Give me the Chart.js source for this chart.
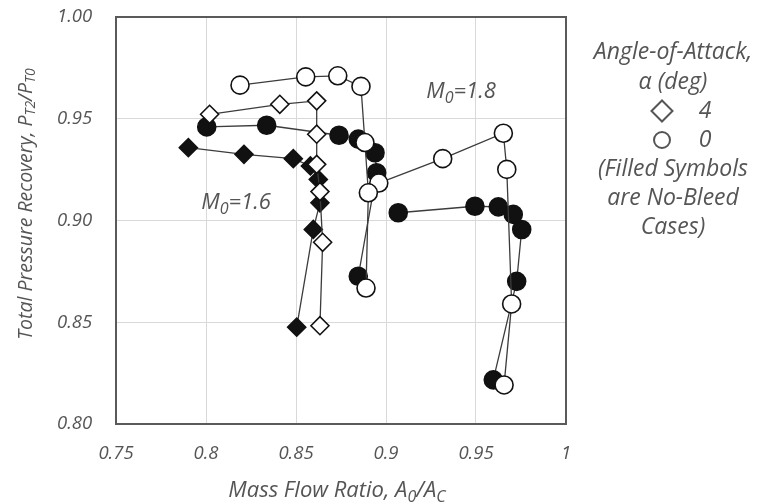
<!DOCTYPE html>
<html>
<head>
<meta charset="utf-8">
<script src="https://cdn.jsdelivr.net/npm/chart.js@4.4.0/dist/chart.umd.min.js"></script>
<style>
  html, body { margin: 0; padding: 0; background: #fff; }
</style>
</head>
<body>
<canvas id="recoveryChart" width="766" height="503"></canvas>
<script>
// Inlet test data: mass flow ratio (x) vs total pressure recovery (y)
// M0 = 1.6, alpha = 4 deg
const m16a4BleedX = [0.802, 0.841, 0.8615, 0.8615, 0.8615, 0.8633, 0.8648, 0.8633];
const m16a4BleedY = [0.9522, 0.9571, 0.9588, 0.9424, 0.9276, 0.9142, 0.8893, 0.8483];
const m16a4NoBleedX = [0.7902, 0.8211, 0.8485, 0.858, 0.8624, 0.8633, 0.8596, 0.8504];
const m16a4NoBleedY = [0.9358, 0.9325, 0.9304, 0.9268, 0.9202, 0.9087, 0.8956, 0.8476];

// M0 = 1.6, alpha = 0 deg
const m16a0BleedX = [0.8189, 0.8554, 0.8732, 0.8861, 0.8883, 0.8902, 0.8889];
const m16a0BleedY = [0.9665, 0.9706, 0.9711, 0.9659, 0.9383, 0.9136, 0.8668];
const m16a0NoBleedX = [0.8004, 0.8337, 0.8739, 0.8846, 0.8939, 0.8948, 0.8846];
const m16a0NoBleedY = [0.946, 0.9468, 0.9419, 0.9400, 0.9333, 0.9235, 0.8726];

// M0 = 1.8, alpha = 0 deg
const m18a0BleedX = [0.8960, 0.9315, 0.9652, 0.9671, 0.9698, 0.9656];
const m18a0BleedY = [0.9184, 0.9304, 0.9429, 0.9251, 0.859, 0.8192];
const m18a0NoBleedX = [0.9068, 0.9494, 0.9624, 0.9707, 0.9754, 0.9726, 0.9596];
const m18a0NoBleedY = [0.9038, 0.907, 0.9067, 0.903, 0.8956, 0.8701, 0.8217];

const xTickLabels = ['0.75', '0.8', '0.85', '0.9', '0.95', '1'];
const yTickLabels = ['0.80', '0.85', '0.90', '0.95', '1.00'];

const FONT = '"Open Sans", "DejaVu Sans", sans-serif';
const TEXT = '#555';

function pts(xs, ys) {
    return xs.map((x, i) => ({ x: x, y: ys[i] }));
}

function series(xs, ys, shape, filled) {
    return {
        data: pts(xs, ys),
        showLine: true,
        borderColor: '#3c3c3c',
        borderWidth: 1.3,
        pointStyle: shape,
        pointRadius: 9,
        pointBorderWidth: 1.6,
        pointBorderColor: '#111',
        pointBackgroundColor: filled ? '#111' : '#fff'
    };
}

// draw text with subscript pieces, e.g. [['M'], ['0', true], ['=1.6']]
function drawRich(ctx, parts, x, y, size) {
    const big = 'italic ' + size + 'px ' + FONT;
    const small = 'italic ' + Math.round(size * 0.72) + 'px ' + FONT;
    let w = 0;
    parts.forEach(p => { ctx.font = p[1] ? small : big; w += ctx.measureText(p[0]).width; });
    let cx = x - w / 2;
    ctx.textAlign = 'left';
    ctx.textBaseline = 'middle';
    parts.forEach(p => {
        ctx.font = p[1] ? small : big;
        ctx.fillText(p[0], cx, p[1] ? y + size * 0.28 : y);
        cx += ctx.measureText(p[0]).width;
    });
}

const decorations = {
    id: 'decorations',
    afterDraw(chart) {
        const ctx = chart.ctx;
        const a = chart.chartArea;
        ctx.save();

        // plot frame
        ctx.strokeStyle = '#5a5a5a';
        ctx.lineWidth = 2;
        ctx.strokeRect(a.left, a.top, a.right - a.left, a.bottom - a.top);

        ctx.fillStyle = TEXT;
        // axis titles
        drawRich(ctx, [['Mass Flow Ratio, A'], ['0', true], ['/A'], ['C', true]], 337, 491, 22);
        ctx.save();
        ctx.translate(26, 204);
        ctx.rotate(-Math.PI / 2);
        drawRich(ctx, [['Total Pressure Recovery, P'], ['T2', true], ['/P'], ['T0', true]], 0, 0, 19.5);
        ctx.restore();

        // Mach number notes
        drawRich(ctx, [['M'], ['0', true], ['=1.6']], 236, 203, 22);
        drawRich(ctx, [['M'], ['0', true], ['=1.8']], 461, 92, 22);

        // symbol key
        const kx = 673;
        const ks = 23;
        drawRich(ctx, [['Angle-of-Attack,']], kx, 52, ks);
        drawRich(ctx, [['\u03b1 (deg)']], kx, 82, ks);
        drawRich(ctx, [['4']], 705, 111, ks);
        drawRich(ctx, [['0']], 705, 140, ks);
        drawRich(ctx, [['(Filled Symbols']], kx, 169, ks);
        drawRich(ctx, [['are No-Bleed']], kx, 198, ks);
        drawRich(ctx, [['Cases)']], kx, 227, ks);

        ctx.strokeStyle = '#555';
        ctx.fillStyle = '#fff';
        const keyOpts = { pointStyle: 'rectRot', radius: 10.5, rotation: 0, borderWidth: 1.3 };
        Chart.helpers.drawPoint(ctx, keyOpts, 662, 111);
        Chart.helpers.drawPoint(ctx, Object.assign({}, keyOpts, { pointStyle: 'circle', radius: 8 }), 662, 140);
        ctx.restore();
    }
};

const ctx = document.getElementById('recoveryChart').getContext('2d');
new Chart(ctx, {
    type: 'scatter',
    data: {
        datasets: [
            series(m16a4BleedX, m16a4BleedY, 'rectRot', false),
            series(m16a0BleedX, m16a0BleedY, 'circle', false),
            series(m18a0BleedX, m18a0BleedY, 'circle', false),
            series(m16a4NoBleedX, m16a4NoBleedY, 'rectRot', true),
            series(m16a0NoBleedX, m16a0NoBleedY, 'circle', true),
            series(m18a0NoBleedX, m18a0NoBleedY, 'circle', true)
        ]
    },
    options: {
        responsive: false,
        animation: false,
        // y labels sit left-aligned at x = 57, the axis line at x = 116
        layout: { padding: { top: 17, right: 200, left: 57, bottom: 0 } },
        plugins: { legend: { display: false }, tooltip: { enabled: false } },
        scales: {
            x: {
                type: 'linear',
                min: 0.75,
                max: 1,
                afterFit: s => { s.height = 79; },
                grid: { color: '#d9d9d9', lineWidth: 1, drawTicks: false },
                border: { display: false },
                ticks: {
                    stepSize: 0.05,
                    padding: 19,
                    color: TEXT,
                    font: { family: FONT, size: 18.5, style: 'italic' },
                    callback: (v, i) => xTickLabels[i]
                }
            },
            y: {
                type: 'linear',
                min: 0.8,
                max: 1,
                afterFit: s => { s.width = 59; },
                grid: { color: '#d9d9d9', lineWidth: 1, drawTicks: false },
                border: { display: false },
                ticks: {
                    stepSize: 0.05,
                    padding: 0,
                    crossAlign: 'far',
                    color: TEXT,
                    font: { family: FONT, size: 18.5, style: 'italic' },
                    callback: (v, i) => yTickLabels[i]
                }
            }
        }
    },
    plugins: [decorations]
});
</script>
</body>
</html>
